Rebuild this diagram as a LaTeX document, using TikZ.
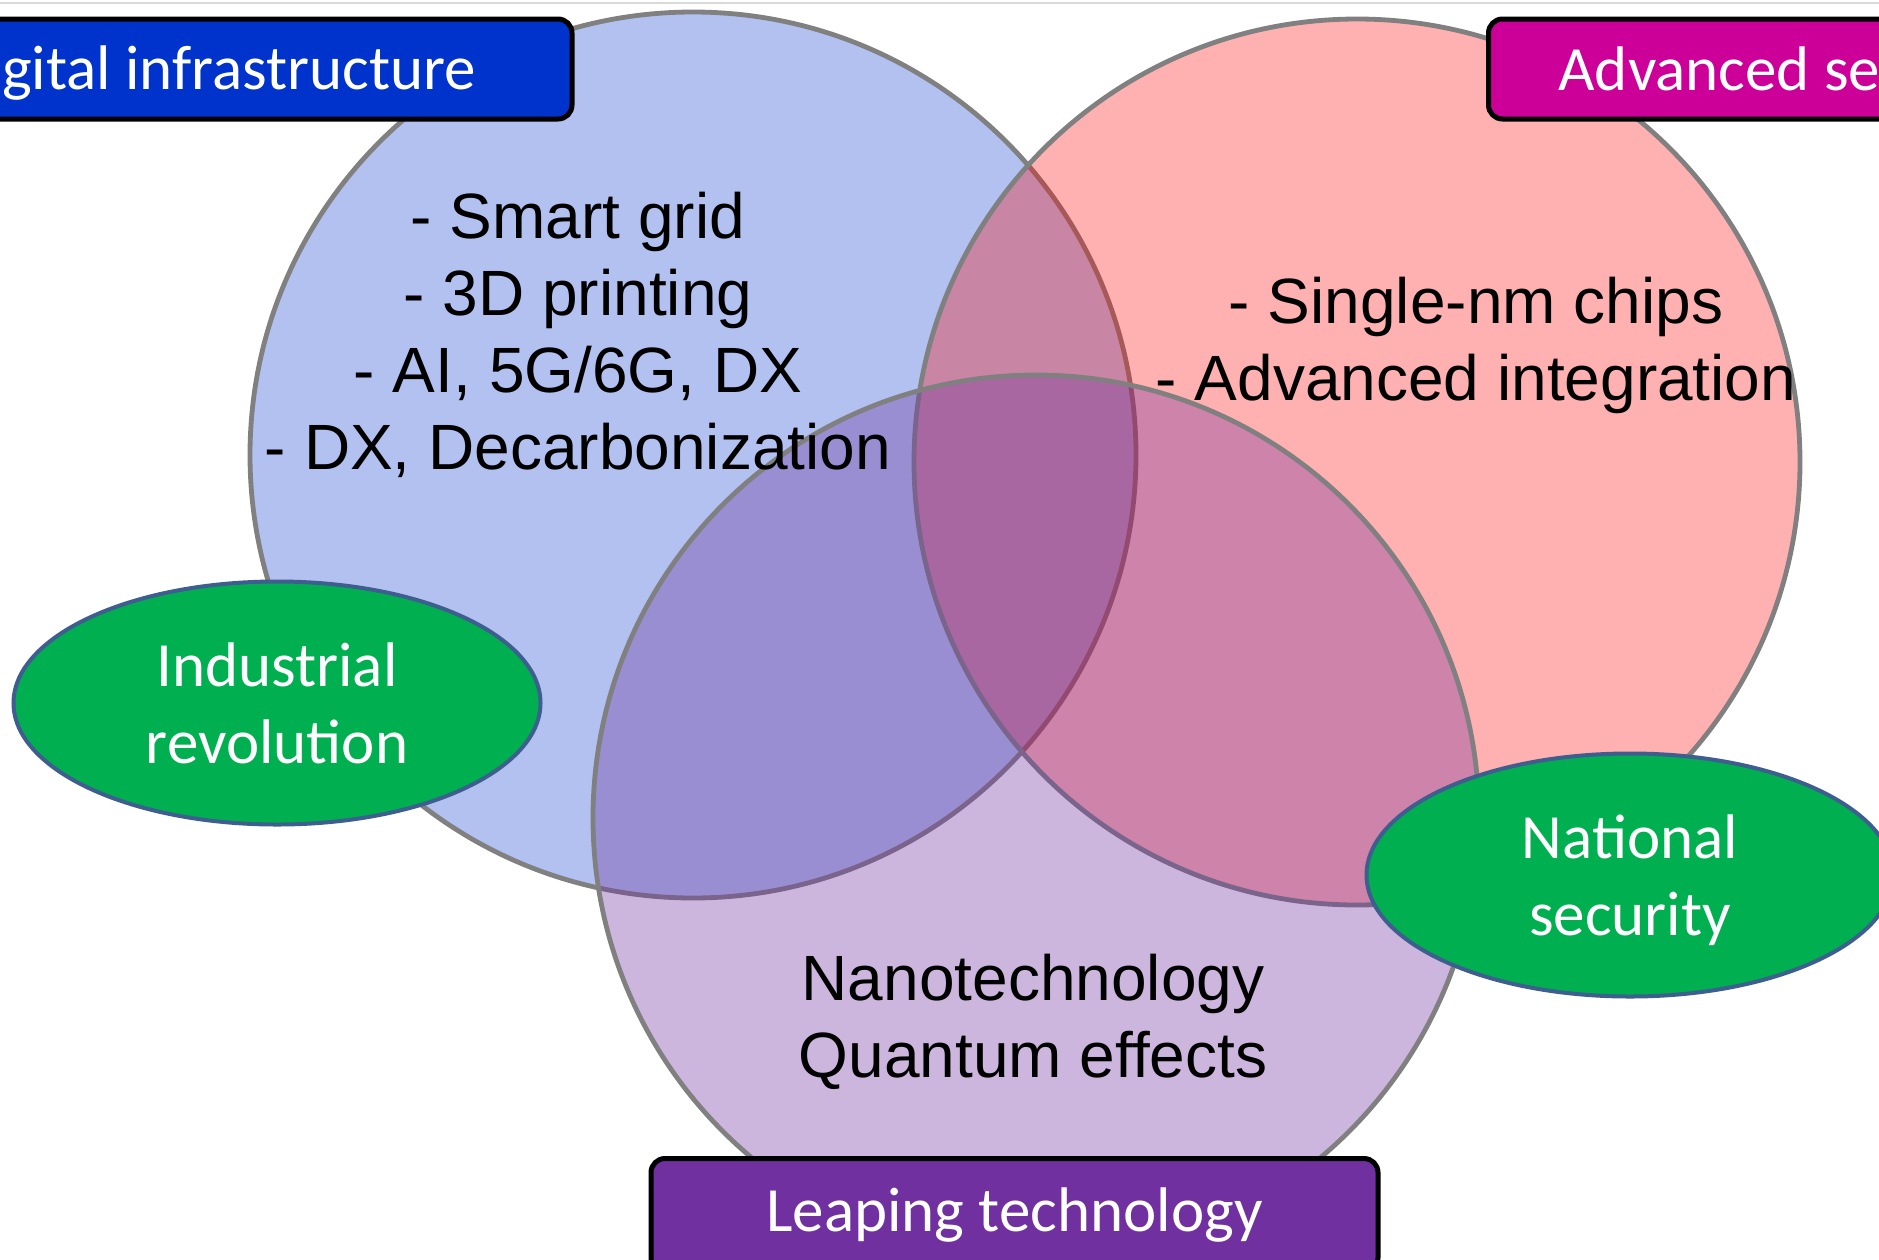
\documentclass[tikz,border=0pt]{standalone}
\usepackage{fontspec}
\setmainfont{Liberation Sans}
\newfontfamily\labelfont{Carlito}
\usetikzlibrary{shapes.geometric}

\definecolor{digblue}{HTML}{0033CC}
\definecolor{semired}{HTML}{FF0000}
\definecolor{leappurple}{HTML}{7030A0}
\definecolor{semimag}{HTML}{CC0099}
\definecolor{ringgray}{HTML}{808080}
\definecolor{ovalgreen}{HTML}{00B050}
\definecolor{ovalline}{HTML}{3E5E90}
\definecolor{rulegray}{HTML}{D9D9D9}

\tikzset{
  ring/.style={circle, minimum size=886pt, inner sep=0pt, draw=ringgray,
    line width=4.8pt, draw opacity=1},
  topic/.style={font=\fontsize{64}{77}\selectfont, align=center, inner sep=0pt, text=black},
  oval/.style={ellipse, minimum width=527pt, minimum height=243pt, inner sep=0pt,
    fill=ovalgreen, draw=ovalline, line width=4pt, text=white, align=center,
    font=\labelfont\fontsize{63}{77}\selectfont},
  ovaltext/.style={text=white, align=center, inner sep=0pt,
    font=\labelfont\fontsize{63}{77}\selectfont},
  tagbox/.style={rectangle, rounded corners=14pt, draw=black, line width=5pt,
    minimum height=100pt, inner sep=0pt, text=white,
    font=\labelfont\fontsize{63}{76}\selectfont},
  tagtext/.style={text=white, inner sep=0pt, font=\labelfont\fontsize{63}{76}\selectfont}
}

\begin{document}
\begin{tikzpicture}[x=1pt, y=-1pt]
  \useasboundingbox (0,0) rectangle (1879,1259);
  \clip (0,0) rectangle (1879,1259);
  \fill[white] (0,0) rectangle (1879,1259);
  \draw[rulegray, line width=2pt] (0,3) -- (1879,3);

  % three overlapping translucent circles
  \node[ring, fill=digblue, fill opacity=0.3] (cdig) at (693,455) {};
  \node[ring, fill=semired, fill opacity=0.31] (csemi) at (1357,462) {};
  \node[ring, fill=leappurple, fill opacity=0.35] (cleap) at (1036,818) {};

  % circle contents
  \node[topic] (tdig) at (578,335) {- Smart grid\\- 3D printing\\- AI, 5G/6G, DX\\- DX, Decarbonization};
  \node[topic] (tsemi) at (1476,345) {- Single-nm chips\\- Advanced integration};
  \node[topic] (tleap) at (1033,1022) {Nanotechnology\\Quantum effects};

  % drivers
  \node[oval] (oind) at (277,703) {Industrial\\revolution};
  \node[oval] (onat) at (1630,875) {};
  \node[ovaltext] (lnat) at (1630,880) {National\\security};

  % circle titles
  \node[tagbox, fill=digblue, minimum width=727pt] (bdig) at (208.5,69) {};
  \node[tagtext] (ldig) at (212.5,73) {Digital infrastructure};
  \node[tagbox, fill=semimag, anchor=west, inner xsep=70pt] (bsemi) at (1486,69) {Advanced semiconductors};
  \node[tagbox, fill=leappurple, minimum width=727pt, minimum height=113pt] (bleap) at (1014.5,1215) {Leaping technology};
\end{tikzpicture}
\end{document}
